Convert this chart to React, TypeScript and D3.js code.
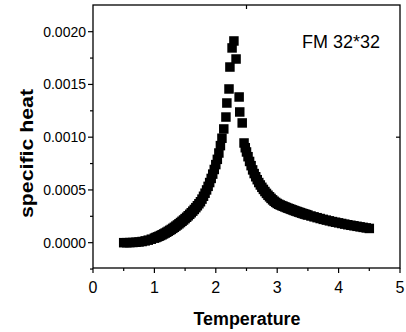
import React from "react";
import * as d3 from "d3";

const temperature = [
  0.5, 0.55, 0.6, 0.65, 0.7, 0.75, 0.8, 0.85, 0.9, 0.95,
  1.0, 1.025, 1.05, 1.075, 1.1, 1.125, 1.15, 1.175, 1.2, 1.225,
  1.25, 1.275, 1.3, 1.325, 1.35, 1.375, 1.4, 1.425, 1.45, 1.475,
  1.5, 1.525, 1.55, 1.575, 1.6, 1.625, 1.65, 1.675, 1.7, 1.725,
  1.75, 1.775, 1.8, 1.825, 1.85, 1.875, 1.9, 1.925, 1.95, 1.975,
  2.0, 2.025, 2.05, 2.075, 2.1, 2.13, 2.165, 2.18, 2.215, 2.23,
  2.265, 2.295, 2.33, 2.38, 2.39, 2.43, 2.46, 2.48, 2.5, 2.525,
  2.55, 2.575, 2.6, 2.625, 2.65, 2.675, 2.7, 2.725, 2.75, 2.775,
  2.8, 2.825, 2.85, 2.875, 2.9, 2.925, 2.95, 2.975, 3.0, 3.025,
  3.05, 3.075, 3.1, 3.125, 3.15, 3.175, 3.2, 3.225, 3.25, 3.275,
  3.3, 3.325, 3.35, 3.375, 3.4, 3.425, 3.45, 3.475, 3.5, 3.55,
  3.6, 3.65, 3.7, 3.75, 3.8, 3.85, 3.9, 3.95, 4.0, 4.05,
  4.1, 4.15, 4.2, 4.25, 4.3, 4.35, 4.4, 4.45, 4.5,
];

const specificHeat = [
  0.0, 0.0, 0.000001, 0.000002, 0.000004, 0.000007, 0.000011, 0.000017, 0.000024, 0.000033,
  0.000043, 0.000049, 0.000055, 0.000061, 0.000068, 0.000075, 0.000083, 0.000091, 0.000099, 0.000108,
  0.000117, 0.000126, 0.000136, 0.000146, 0.000157, 0.000168, 0.000179, 0.000191, 0.000203, 0.000215,
  0.000228, 0.000241, 0.000255, 0.000269, 0.000284, 0.000299, 0.000315, 0.000332, 0.00035, 0.000369,
  0.000388, 0.000413, 0.00044, 0.000469, 0.0005, 0.000534, 0.00057, 0.000609, 0.00065, 0.000694,
  0.00074, 0.00079, 0.00085, 0.00092, 0.00099, 0.001078, 0.001191, 0.001324, 0.001457, 0.001665,
  0.001846, 0.001912, 0.001741, 0.001381, 0.001239, 0.001135, 0.000945, 0.0009, 0.00086, 0.000815,
  0.00077, 0.00073, 0.00069, 0.000655, 0.000625, 0.000597, 0.00057, 0.000547, 0.000525, 0.000505,
  0.000485, 0.000467, 0.00045, 0.000435, 0.00042, 0.000406, 0.000393, 0.000382, 0.000372, 0.000364,
  0.000357, 0.000351, 0.000345, 0.000339, 0.000333, 0.000327, 0.000322, 0.000316, 0.000311, 0.000305,
  0.0003, 0.000295, 0.00029, 0.000285, 0.00028, 0.000275, 0.000271, 0.000266, 0.000262, 0.000253,
  0.000245, 0.000237, 0.000229, 0.000221, 0.000214, 0.000207, 0.0002, 0.000194, 0.000188, 0.000182,
  0.000176, 0.00017, 0.000165, 0.00016, 0.000155, 0.00015, 0.000145, 0.00014, 0.000135,
];

const xMajorTicks = [0, 1, 2, 3, 4, 5];
const xMinorTicks = [0.5, 1.5, 2.5, 3.5, 4.5];
const yMajorTicks = [0, 0.0005, 0.001, 0.0015, 0.002];
const yMinorTicks = [-0.00025, 0.00025, 0.00075, 0.00125, 0.00175];
const yTickLabels = ["0.0000", "0.0005", "0.0010", "0.0015", "0.0020"];

const xLabel = "Temperature";
const yLabel = "specific heat";
const annotation = "FM 32*32";

const FONT = "'Liberation Sans', Arial, sans-serif";

export default function App() {
  const left = 93, right = 400, top = 5, bottom = 268;
  const x = d3.scaleLinear().domain([0, 5]).range([left, right]);
  const y = d3.scaleLinear().domain([-0.00024, 0.002253]).range([bottom, top]);
  const sz = 9.5;
  const pts = temperature.map((t, i) => ({ t, c: specificHeat[i] }));

  return (
    <svg width={406} height={332} style={{ position: "absolute", left: 0, top: 0, background: "#fff" }}>
      <rect x={0} y={0} width={406} height={332} fill="#fff" />
      {pts.map((p, i) => (
        <rect key={i} x={x(p.t) - sz / 2} y={y(p.c) - sz / 2} width={sz} height={sz} fill="#000" />
      ))}
      <rect x={left} y={top} width={right - left} height={bottom - top} fill="none" stroke="#000" strokeWidth={1.3} />
      {xMajorTicks.map((t) => (
        <g key={"xm" + t}>
          <line x1={x(t)} x2={x(t)} y1={bottom} y2={bottom + 5} stroke="#000" strokeWidth={1.2} />
          <text x={x(t)} y={293} textAnchor="middle" fontFamily={FONT} fontSize={16} fill="#000">{t}</text>
        </g>
      ))}
      {xMinorTicks.map((t) => (
        <line key={"xn" + t} x1={x(t)} x2={x(t)} y1={bottom} y2={bottom + 3} stroke="#000" strokeWidth={1.2} />
      ))}
      <line x1={x(2.5)} x2={x(2.5)} y1={top} y2={top + 4} stroke="#000" strokeWidth={1.2} />
      {yMajorTicks.map((v, i) => (
        <g key={"ym" + i}>
          <line x1={left - 5} x2={left} y1={y(v)} y2={y(v)} stroke="#000" strokeWidth={1.2} />
          <text x={86} y={y(v) + 5} textAnchor="end" fontFamily={FONT} fontSize={14} fill="#000">{yTickLabels[i]}</text>
        </g>
      ))}
      {yMinorTicks.map((v, i) => (
        <line key={"yn" + i} x1={left - 3} x2={left} y1={y(v)} y2={y(v)} stroke="#000" strokeWidth={1.2} />
      ))}
      <line x1={right - 4} x2={right} y1={y(0.001)} y2={y(0.001)} stroke="#000" strokeWidth={1.2} />
      <text x={247} y={325} textAnchor="middle" fontFamily={FONT} fontSize={18} fontWeight="bold" textLength={107} lengthAdjust="spacingAndGlyphs" fill="#000">{xLabel}</text>
      <text transform="translate(33,153.5) rotate(-90)" textAnchor="middle" fontFamily={FONT} fontSize={18} fontWeight="bold" textLength={129} lengthAdjust="spacingAndGlyphs" fill="#000">{yLabel}</text>
      <text x={302} y={48} fontFamily={FONT} fontSize={18} textLength={78} lengthAdjust="spacingAndGlyphs" fill="#000">{annotation}</text>
    </svg>
  );
}
